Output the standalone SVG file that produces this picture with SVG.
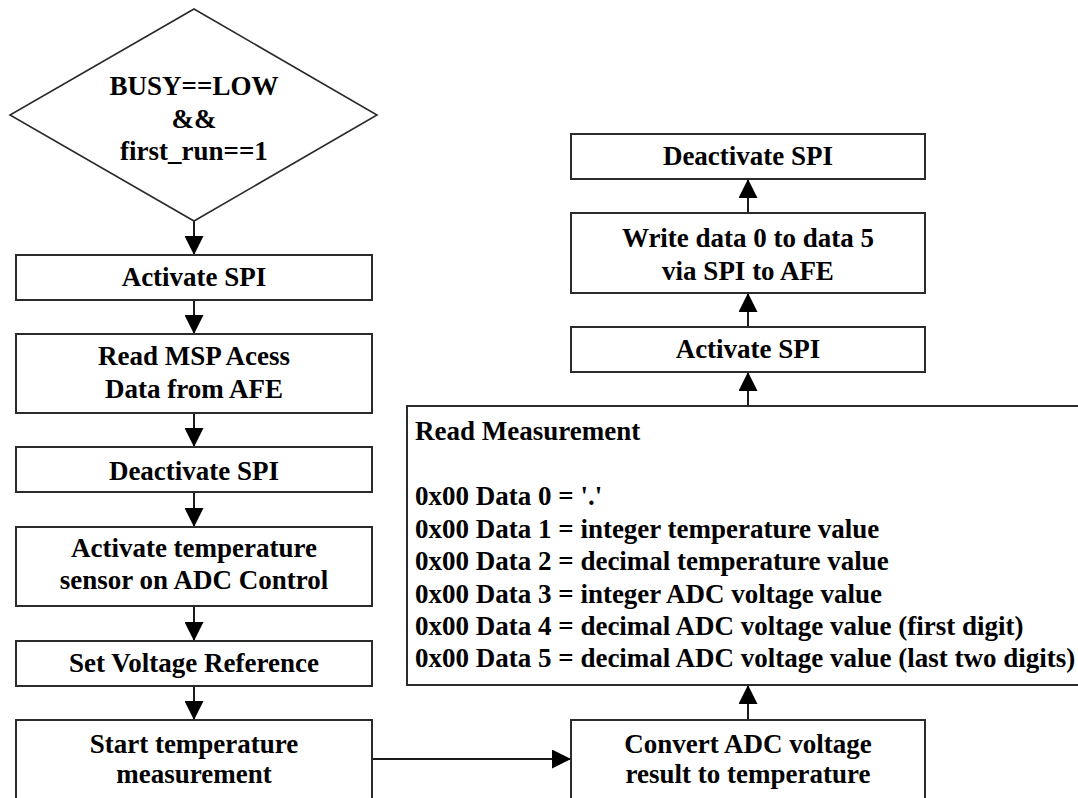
<svg xmlns="http://www.w3.org/2000/svg" width="1078" height="798" viewBox="0 0 1078 798">
  <style>
    .box { fill: #ffffff; stroke: #2b2b2b; stroke-width: 2; }
    .dia { fill: #ffffff; stroke: #2b2b2b; stroke-width: 1.6; }
    .lbl { font-family: "Liberation Serif", "Times New Roman", serif; font-weight: bold; font-size: 27px; fill: #000000; }
    .c { text-anchor: middle; }
    .edge { fill: none; stroke: #1a1a1a; stroke-width: 2; marker-end: url(#head); }
  </style>
  <defs>
    <marker id="head" viewBox="0 0 10 10" refX="10" refY="5" markerWidth="19" markerHeight="19" markerUnits="userSpaceOnUse" orient="auto">
      <path d="M0,0 L10,5 L0,10 z" fill="#000000"/>
    </marker>
  </defs>
  <rect width="1078" height="798" fill="#ffffff"/>

  <!-- connectors -->
  <g id="connectors">
    <line class="edge" x1="194" y1="221" x2="194" y2="255"/>
    <line class="edge" x1="194" y1="300" x2="194" y2="334"/>
    <line class="edge" x1="194" y1="413" x2="194" y2="447"/>
    <line class="edge" x1="194" y1="492" x2="194" y2="527"/>
    <line class="edge" x1="194" y1="606" x2="194" y2="641"/>
    <line class="edge" x1="194" y1="686" x2="194" y2="720"/>
    <line class="edge" x1="372" y1="759" x2="571" y2="759"/>
    <line class="edge" x1="748" y1="720" x2="748" y2="685"/>
    <line class="edge" x1="748" y1="406" x2="748" y2="372"/>
    <line class="edge" x1="748" y1="327" x2="748" y2="293"/>
    <line class="edge" x1="748" y1="213" x2="748" y2="179"/>
  </g>

  <!-- left column -->
  <g id="check-busy">
    <polygon class="dia" points="194,9 377,115 194,221 10,115"/>
    <text class="lbl c" x="194" y="95">BUSY==LOW</text>
    <text class="lbl c" x="194" y="128">&amp;&amp;</text>
    <text class="lbl c" x="194" y="160">first_run==1</text>
  </g>
  <g id="activate-spi-1">
    <rect class="box" x="16" y="255" width="356" height="45"/>
    <text class="lbl c" x="194" y="286">Activate SPI</text>
  </g>
  <g id="read-msp">
    <rect class="box" x="16" y="334" width="356" height="79"/>
    <text class="lbl c" x="194" y="365">Read MSP Acess</text>
    <text class="lbl c" x="194" y="398">Data from AFE</text>
  </g>
  <g id="deactivate-spi-1">
    <rect class="box" x="16" y="447" width="356" height="45"/>
    <text class="lbl c" x="194" y="480">Deactivate SPI</text>
  </g>
  <g id="activate-sensor">
    <rect class="box" x="16" y="527" width="356" height="79"/>
    <text class="lbl c" x="194" y="557">Activate temperature</text>
    <text class="lbl c" x="194" y="589">sensor on ADC Control</text>
  </g>
  <g id="set-vref">
    <rect class="box" x="16" y="641" width="356" height="45"/>
    <text class="lbl c" x="194" y="672">Set Voltage Reference</text>
  </g>
  <g id="start-measurement">
    <rect class="box" x="16" y="720" width="356" height="100"/>
    <text class="lbl c" x="194" y="753">Start temperature</text>
    <text class="lbl c" x="194" y="783">measurement</text>
  </g>

  <!-- right column -->
  <g id="convert">
    <rect class="box" x="571" y="720" width="354" height="100"/>
    <text class="lbl c" x="748" y="753">Convert ADC voltage</text>
    <text class="lbl c" x="748" y="783">result to temperature</text>
  </g>
  <g id="read-measurement">
    <rect class="box" x="407" y="406" width="700" height="279"/>
    <text class="lbl" x="415" y="440">Read Measurement</text>
    <text class="lbl" x="415" y="505">0x00 Data 0 = '.'</text>
    <text class="lbl" x="415" y="538">0x00 Data 1 = integer temperature value</text>
    <text class="lbl" x="415" y="570">0x00 Data 2 = decimal temperature value</text>
    <text class="lbl" x="415" y="603">0x00 Data 3 = integer ADC voltage value</text>
    <text class="lbl" x="415" y="635">0x00 Data 4 = decimal ADC voltage value (first digit)</text>
    <text class="lbl" x="415" y="667">0x00 Data 5 = decimal ADC voltage value (last two digits)</text>
  </g>
  <g id="activate-spi-2">
    <rect class="box" x="571" y="327" width="354" height="45"/>
    <text class="lbl c" x="748" y="358">Activate SPI</text>
  </g>
  <g id="write-data">
    <rect class="box" x="571" y="213" width="354" height="80"/>
    <text class="lbl c" x="748" y="247">Write data 0 to data 5</text>
    <text class="lbl c" x="748" y="280">via SPI to AFE</text>
  </g>
  <g id="deactivate-spi-2">
    <rect class="box" x="571" y="134" width="354" height="45"/>
    <text class="lbl c" x="748" y="165">Deactivate SPI</text>
  </g>
</svg>
